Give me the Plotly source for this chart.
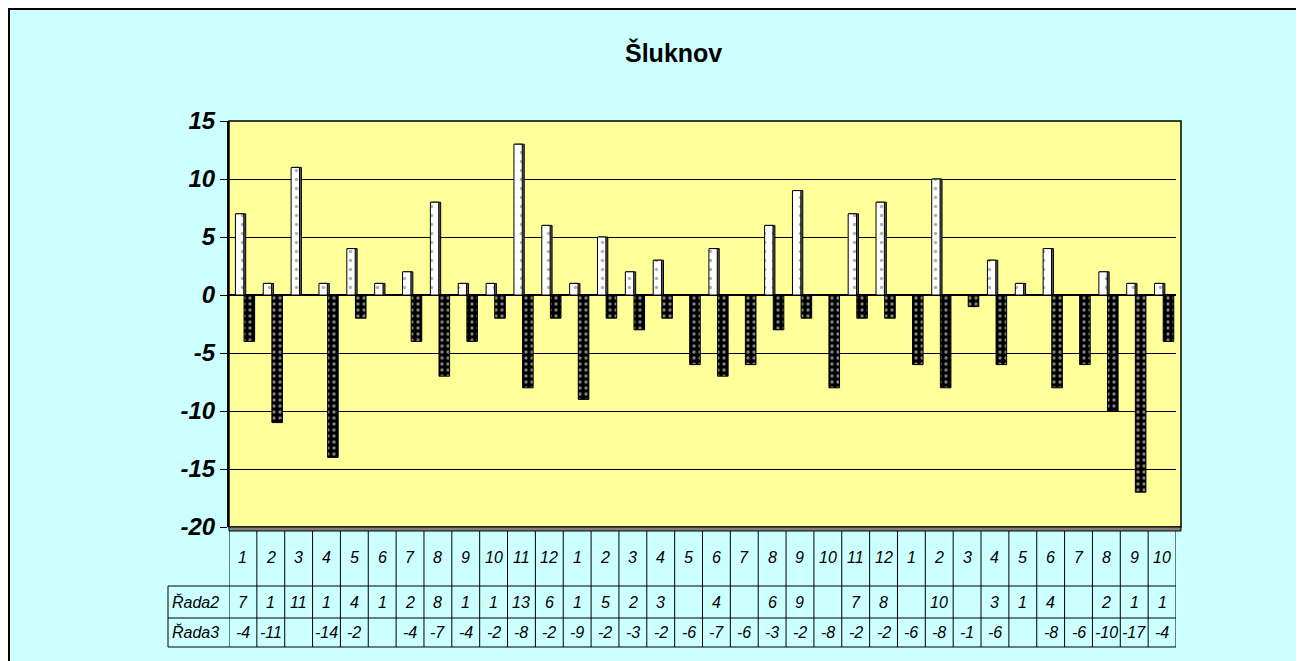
import plotly.graph_objects as go

# ---- data ----
months = [1,2,3,4,5,6,7,8,9,10,11,12,
          1,2,3,4,5,6,7,8,9,10,11,12,
          1,2,3,4,5,6,7,8,9,10]
rada2 = [7,1,11,1,4,1,2,8,1,1,13,6,
         1,5,2,3,None,4,None,6,9,None,7,8,
         None,10,None,3,1,4,None,2,1,1]
rada3 = [-4,-11,None,-14,-2,None,-4,-7,-4,-2,-8,-2,
         -9,-2,-3,-2,-6,-7,-6,-3,-2,-8,-2,-2,
         -6,-8,-1,-6,None,-8,-6,-10,-17,-4]
series_names = ["Řada2", "Řada3"]
title_text = "Šluknov"
y_ticks = [15, 10, 5, 0, -5, -10, -15, -20]
y_ticktext = ["15", "10", "5", "0", "-5", "-10", "-15", "-20"]

# page body has an 8px margin -> figure origin at (8, 8) of the screen
OFF = 8
W, H = 1304 - OFF, 661 - OFF
def px(x): return (x - OFF) / W
def py(y): return 1 - (y - OFF) / H

xs = list(range(len(months)))
n = len(months)

fig = go.Figure()
# 3D-ish side face for Rada2
fig.add_trace(go.Bar(x=xs, y=rada2, offset=-0.24, width=0.34,
                     marker=dict(color="#5a5a5a", line=dict(color="black", width=1)),
                     hoverinfo="skip", showlegend=False))
fig.add_trace(go.Bar(x=xs, y=rada2, name=series_names[0], offset=-0.27, width=0.30,
                     marker=dict(color="white", line=dict(color="black", width=1),
                                 pattern=dict(shape=".", fgcolor="#666666", bgcolor="white",
                                              size=9, solidity=0.12)),
                     showlegend=False))
fig.add_trace(go.Bar(x=xs, y=rada3, name=series_names[1], offset=0.04, width=0.38,
                     marker=dict(color="black", line=dict(color="black", width=1),
                                 pattern=dict(shape=".", fgcolor="white", bgcolor="black",
                                              size=6, solidity=0.25)),
                     showlegend=False))

x_dom = [px(229), px(1176)]
y_dom = [py(527), py(121)]

shapes = []
# outer border along top and left edges of the figure
shapes.append(dict(type="line", xref="paper", yref="paper", x0=0, x1=1, y0=py(9), y1=py(9),
                   line=dict(color="black", width=2), layer="above"))
shapes.append(dict(type="line", xref="paper", yref="paper", x0=px(9), x1=px(9), y0=0, y1=py(8),
                   line=dict(color="black", width=2), layer="above"))
# wall extension to the right
shapes.append(dict(type="rect", xref="paper", yref="paper", x0=x_dom[1], x1=px(1181), y0=y_dom[0], y1=y_dom[1],
                   fillcolor="#FFFF99", line=dict(width=0), layer="below"))
# wall outline
shapes.append(dict(type="rect", xref="paper", yref="paper", x0=px(229), x1=px(1181), y0=y_dom[0], y1=y_dom[1],
                   fillcolor="rgba(0,0,0,0)", line=dict(color="black", width=1.5), layer="above"))
# floor strip
shapes.append(dict(type="rect", xref="paper", yref="paper", x0=px(229), x1=px(1181), y0=py(531), y1=py(527),
                   fillcolor="#808080", line=dict(color="black", width=1), layer="above"))
# table lines
top_t, r1, r2, bot = 531, 586, 618, 647
for i in range(n + 1):
    shapes.append(dict(type="line", xref="x", yref="paper", x0=i - 0.5, x1=i - 0.5,
                       y0=py(bot), y1=py(top_t), line=dict(color="black", width=1)))
for yy in (r1, r2, bot):
    shapes.append(dict(type="line", xref="paper", yref="paper", x0=px(168), x1=x_dom[1],
                       y0=py(yy), y1=py(yy), line=dict(color="black", width=1)))
shapes.append(dict(type="line", xref="paper", yref="paper", x0=px(168), x1=px(168),
                   y0=py(bot), y1=py(r1), line=dict(color="black", width=1)))

tf = dict(family="Liberation Sans, Arial", size=16, color="black", style="italic")
ann = []
for i, m in enumerate(months):
    ann.append(dict(x=i, y=py(557), xref="x", yref="paper", text=str(m), showarrow=False, font=tf,
                    xanchor="center", yanchor="middle"))
    if rada2[i] is not None:
        ann.append(dict(x=i, y=py(602), xref="x", yref="paper", text=str(rada2[i]), showarrow=False,
                        font=tf, xanchor="center", yanchor="middle"))
    if rada3[i] is not None:
        ann.append(dict(x=i, y=py(632), xref="x", yref="paper", text=str(rada3[i]), showarrow=False,
                        font=tf, xanchor="center", yanchor="middle"))
for name, yy in zip(series_names, (602, 632)):
    ann.append(dict(x=px(170), y=py(yy), xref="paper", yref="paper", text=name, showarrow=False,
                    xanchor="left", yanchor="middle", font=tf))
ann.append(dict(x=px(673), y=py(52), xref="paper", yref="paper", text=title_text, showarrow=False,
                xanchor="center", yanchor="middle",
                font=dict(family="Liberation Sans, Arial", size=25, color="black", weight="bold")))

fig.update_layout(
    width=W, height=H, margin=dict(l=0, r=0, t=0, b=0, autoexpand=False),
    paper_bgcolor="#CCFFFF", plot_bgcolor="#FFFF99",
    barmode="overlay", showlegend=False,
    xaxis=dict(domain=x_dom, range=[-0.5, n - 0.5], showticklabels=False, showgrid=False,
               zeroline=False, showline=False, ticks="", automargin=False),
    yaxis=dict(domain=y_dom, range=[-20, 15], tickvals=y_ticks, ticktext=y_ticktext,
               showgrid=True, automargin=False,
               gridcolor="black", gridwidth=1, zeroline=True, zerolinecolor="black", zerolinewidth=1.5,
               showline=True, linecolor="black", linewidth=2, ticks="outside", ticklen=7,
               tickcolor="black",
               tickfont=dict(family="Liberation Sans, Arial", size=24, color="black",
                             weight="bold", style="italic")),
    shapes=shapes, annotations=ann,
)
fig.write_html("out.html")
